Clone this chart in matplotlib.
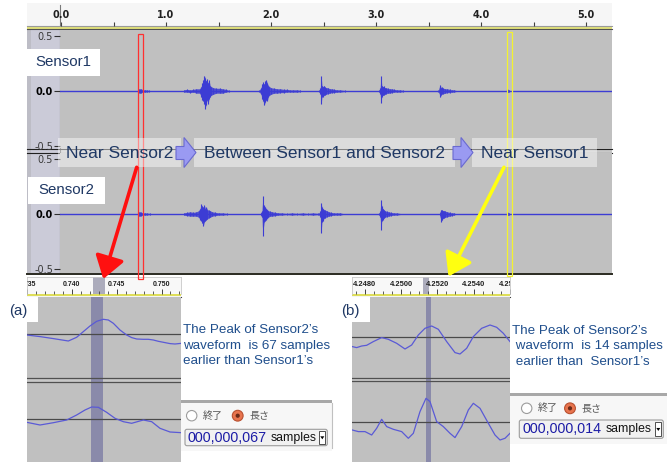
import matplotlib
matplotlib.use('Agg')
import matplotlib.pyplot as plt
from matplotlib.patches import Rectangle, Polygon, FancyArrowPatch, Circle, FancyBboxPatch

plt.rcParams['font.family'] = ['Liberation Sans', 'DejaVu Sans']

# ---------------- data ----------------
RULER_TICKS = [0.0, 1.0, 2.0, 3.0, 4.0, 5.0]
RULER_LABELS = ['0.0', '1.0', '2.0', '3.0', '4.0', '5.0']
RULER_ALL = [0.0, 0.5, 1.0, 1.5, 2.0, 2.5, 3.0, 3.5, 4.0, 4.5, 5.0]
AMP_TICKS = [-0.5, 0.0, 0.5]
AMP_LABELS = ['-0.5', '0.0', '0.5']

# Sensor1 bursts (time s, upper envelope, lower envelope)
S1_T = [
    [0.735, 0.745, 0.755, 0.765, 0.78, 0.80, 0.82, 0.84],
    [1.17, 1.20, 1.23, 1.26, 1.29, 1.32, 1.335, 1.345, 1.355, 1.365, 1.372, 1.38, 1.39, 1.40, 1.41, 1.42, 1.43, 1.45, 1.48, 1.51, 1.54, 1.57, 1.60],
    [1.89, 1.905, 1.915, 1.925, 1.935, 1.945, 1.955, 1.965, 1.975, 1.985, 2.0, 2.03, 2.06, 2.09, 2.12, 2.15, 2.18, 2.21, 2.25, 2.28],
    [2.46, 2.47, 2.478, 2.485, 2.495, 2.505, 2.515, 2.525, 2.54, 2.56, 2.58, 2.60, 2.63, 2.66, 2.70],
    [3.03, 3.04, 3.048, 3.055, 3.065, 3.075, 3.085, 3.095, 3.11, 3.13, 3.15, 3.17, 3.20, 3.23, 3.26],
    [3.595, 3.605, 3.612, 3.62, 3.63, 3.64, 3.66, 3.68, 3.70, 3.72, 3.74, 3.77],
    [4.245, 4.252, 4.26, 4.27],
]
S1_HI = [
    [0.01, 0.02, 0.015, 0.02, 0.01, 0.01, 0.008, 0.005],
    [0.01, 0.015, 0.01, 0.015, 0.02, 0.02, 0.04, 0.07, 0.10, 0.14, 0.12, 0.09, 0.11, 0.07, 0.10, 0.05, 0.04, 0.03, 0.025, 0.025, 0.02, 0.015, 0.005],
    [0.01, 0.03, 0.06, 0.08, 0.06, 0.09, 0.10, 0.07, 0.05, 0.04, 0.03, 0.025, 0.02, 0.02, 0.015, 0.015, 0.01, 0.01, 0.01, 0.005],
    [0.01, 0.03, 0.14, 0.05, 0.04, 0.05, 0.035, 0.03, 0.03, 0.02, 0.02, 0.015, 0.01, 0.01, 0.005],
    [0.01, 0.03, 0.14, 0.05, 0.04, 0.045, 0.03, 0.03, 0.025, 0.02, 0.02, 0.015, 0.01, 0.01, 0.005],
    [0.01, 0.04, 0.055, 0.03, 0.035, 0.025, 0.02, 0.02, 0.015, 0.01, 0.01, 0.003],
    [0.01, 0.02, 0.012, 0.005],
]
S1_LO = [
    [-0.01, -0.015, -0.02, -0.015, -0.01, -0.01, -0.008, -0.005],
    [-0.01, -0.01, -0.015, -0.01, -0.02, -0.02, -0.05, -0.08, -0.09, -0.12, -0.16, -0.13, -0.08, -0.12, -0.07, -0.05, -0.04, -0.03, -0.02, -0.02, -0.02, -0.01, -0.005],
    [-0.01, -0.03, -0.07, -0.09, -0.13, -0.10, -0.08, -0.09, -0.05, -0.04, -0.03, -0.02, -0.02, -0.015, -0.015, -0.01, -0.01, -0.01, -0.01, -0.005],
    [-0.01, -0.03, -0.12, -0.05, -0.05, -0.04, -0.035, -0.03, -0.025, -0.02, -0.015, -0.015, -0.01, -0.01, -0.005],
    [-0.01, -0.03, -0.11, -0.05, -0.04, -0.035, -0.03, -0.025, -0.02, -0.02, -0.015, -0.01, -0.01, -0.01, -0.005],
    [-0.01, -0.03, -0.057, -0.035, -0.025, -0.025, -0.02, -0.015, -0.015, -0.01, -0.01, -0.003],
    [-0.01, -0.015, -0.01, -0.005],
]

# Sensor2 bursts
S2_T = [
    [0.735, 0.745, 0.755, 0.765, 0.78, 0.80, 0.82, 0.85],
    [1.17, 1.20, 1.23, 1.26, 1.29, 1.31, 1.325, 1.335, 1.345, 1.355, 1.365, 1.375, 1.385, 1.395, 1.405, 1.42, 1.44, 1.47, 1.50, 1.54, 1.58],
    [1.90, 1.915, 1.922, 1.928, 1.935, 1.945, 1.955, 1.965, 1.975, 1.99, 2.01, 2.04, 2.07, 2.10, 2.15, 2.20, 2.25, 2.30, 2.35, 2.40, 2.45],
    [2.46, 2.47, 2.478, 2.485, 2.495, 2.505, 2.515, 2.53, 2.55, 2.57, 2.60, 2.63, 2.66, 2.69],
    [3.03, 3.04, 3.048, 3.055, 3.065, 3.075, 3.085, 3.10, 3.12, 3.14, 3.17, 3.20, 3.24],
    [3.605, 3.615, 3.622, 3.63, 3.64, 3.65, 3.66, 3.68, 3.70, 3.72, 3.74, 3.76],
    [4.245, 4.252, 4.26, 4.27],
]
S2_HI = [
    [0.01, 0.02, 0.015, 0.015, 0.01, 0.01, 0.008, 0.005],
    [0.01, 0.015, 0.02, 0.015, 0.02, 0.03, 0.05, 0.09, 0.07, 0.06, 0.08, 0.05, 0.06, 0.04, 0.035, 0.03, 0.02, 0.015, 0.01, 0.01, 0.005],
    [0.01, 0.03, 0.16, 0.07, 0.08, 0.06, 0.05, 0.04, 0.03, 0.025, 0.02, 0.015, 0.01, 0.01, 0.005, 0.01, 0.005, 0.01, 0.005, 0.01, 0.005],
    [0.01, 0.03, 0.10, 0.06, 0.05, 0.04, 0.035, 0.03, 0.02, 0.015, 0.01, 0.01, 0.01, 0.003],
    [0.01, 0.03, 0.13, 0.07, 0.05, 0.04, 0.03, 0.025, 0.02, 0.015, 0.01, 0.01, 0.003],
    [0.01, 0.03, 0.04, 0.035, 0.03, 0.03, 0.025, 0.02, 0.015, 0.01, 0.01, 0.003],
    [0.01, 0.02, 0.012, 0.005],
]
S2_LO = [
    [-0.01, -0.02, -0.015, -0.015, -0.01, -0.01, -0.008, -0.005],
    [-0.01, -0.015, -0.02, -0.02, -0.02, -0.03, -0.05, -0.06, -0.08, -0.11, -0.07, -0.06, -0.05, -0.045, -0.035, -0.03, -0.02, -0.015, -0.01, -0.01, -0.005],
    [-0.01, -0.03, -0.20, -0.12, -0.07, -0.06, -0.05, -0.04, -0.03, -0.02, -0.02, -0.015, -0.01, -0.01, -0.005, -0.01, -0.005, -0.01, -0.005, -0.01, -0.005],
    [-0.01, -0.03, -0.17, -0.07, -0.06, -0.04, -0.035, -0.025, -0.02, -0.015, -0.01, -0.01, -0.01, -0.003],
    [-0.01, -0.03, -0.145, -0.06, -0.05, -0.04, -0.03, -0.025, -0.02, -0.015, -0.01, -0.01, -0.003],
    [-0.01, -0.04, -0.07, -0.05, -0.04, -0.035, -0.03, -0.025, -0.02, -0.015, -0.01, -0.003],
    [-0.01, -0.015, -0.01, -0.005],
]

# Zoomed view (a)
A_TICKS = [0.735, 0.740, 0.745, 0.750]
A_LABELS = ['0.735', '0.740', '0.745', '0.750']
A_MINOR = [0.736, 0.737, 0.738, 0.739, 0.741, 0.742, 0.743, 0.744, 0.746, 0.747, 0.748, 0.749, 0.751, 0.752]
A_BAND = [0.74236, 0.74366]
A1_T = [0.735400, 0.736850, 0.738300, 0.739930, 0.740830, 0.741560, 0.742280, 0.743010, 0.743730, 0.744280, 0.744820, 0.745540,
        0.746270, 0.746810, 0.747360, 0.748080, 0.748620, 0.749170, 0.749710, 0.750430, 0.750980, 0.751520, 0.752250]
A1_V = [-0.7, -2.3, -4.3, -6.7, -3.0, 2.7, 8.3, 13.0, 15.0, 14.3, 11.0, 4.3, -0.7, -3.3, -4.7, -5.0, -5.0, -5.7, -7.0, -8.3, -9.3, -9.7, -9.0]
A2_T = [0.735400, 0.736850, 0.738300, 0.739750, 0.740830, 0.741740, 0.742460, 0.743190, 0.744090, 0.745000, 0.745910, 0.746810,
        0.748080, 0.748990, 0.749890, 0.750980, 0.752250]
A2_V = [-3.3, -6.0, -3.7, -1.0, 4.0, 9.0, 12.0, 11.7, 6.7, 0.7, -2.7, -4.3, -1.0, -2.7, -9.3, -13.0, -13.7]

# Zoomed view (b)
B_TICKS = [4.2480, 4.2500, 4.2520, 4.2540, 4.2560]
B_LABELS = ['4.2480', '4.2500', '4.2520', '4.2540', '4.2560']
B_MINOR = [4.2475, 4.2485, 4.2490, 4.2495, 4.2505, 4.2510, 4.2515, 4.2525, 4.2530, 4.2535, 4.2545, 4.2550, 4.2555]
B_BAND = [4.251237, 4.251520]
B1_T = [4.247324, 4.247556, 4.247822, 4.248089, 4.248444, 4.248889, 4.249244, 4.249689, 4.250133, 4.250489, 4.250844, 4.251200,
        4.251556, 4.251911, 4.252356, 4.252800, 4.253067, 4.253422, 4.253778, 4.254222, 4.254667, 4.255022, 4.255378, 4.255733]
B1_V = [-9.3, -10.3, -8.7, -8.0, -4.3, -0.3, -2.0, -6.0, -11.7, -7.7, 2.3, 9.0, 11.3, 8.0, -4.3, -15.3, -16.7, -11.0, 0.7, 9.0, 12.3, 10.0, 4.0, -4.3]
B2_T = [4.247324, 4.247644, 4.248000, 4.248356, 4.248622, 4.248889, 4.249156, 4.249511, 4.249956, 4.250311, 4.250578, 4.250933,
        4.251253, 4.251467, 4.251822, 4.252178, 4.252533, 4.252800, 4.253156, 4.253511, 4.253778, 4.254133, 4.254578, 4.254933,
        4.255200, 4.255467, 4.255733]
B2_V = [-7.7, -9.3, -9.3, -12.7, -6.0, 3.0, -4.3, -7.0, -9.3, -16.0, -11.0, 10.7, 24.0, 20.7, 0.7, -4.3, -11.0, -15.3, -4.3,
        12.3, 19.0, 14.0, -1.0, -12.7, -17.7, -16.0, -11.0]

SEGMENTS = ['Near Sensor2', 'Between Sensor1 and Sensor2', 'Near Sensor1']
TRACK_NAMES = ['Sensor1', 'Sensor2']
CAPTION_A = ['The Peak of Sensor2\u2019s', 'waveform  is 67 samples', 'earlier than Sensor1\u2019s']
CAPTION_B = ['The Peak of Sensor2\u2019s', ' waveform  is 14 samples', ' earlier than  Sensor1\u2019s']
COUNT_A = '000,000,067'
COUNT_B = '000,000,014'

# ---------------- styling ----------------
W, H = 667, 462
WAVE = '#3c3cd4'
ZWAVE = '#5a5ad6'
TRACK_BG = '#c0c0c0'
NAVY = '#1f3864'
CAP = '#1f4e8c'

fig = plt.figure(figsize=(W / 100, H / 100), dpi=100)
fig.patch.set_facecolor('white')


def fbox(x0, y0, x1, y1):
    return [x0 / W, 1 - y1 / H, (x1 - x0) / W, (y1 - y0) / H]


def clean(ax):
    for s in ax.spines.values():
        s.set_visible(False)


# background (pixel space)
bg = fig.add_axes([0, 0, 1, 1])
bg.set_xlim(0, W); bg.set_ylim(H, 0); bg.axis('off'); bg.set_zorder(0)
bg.add_patch(Rectangle((27, 3), 585, 23, fc='#f6f6f6', ec='none'))
bg.plot([27, 612], [25.8, 25.8], color='#9a9a9a', lw=0.8)
bg.add_patch(Rectangle((27, 26.3), 585, 2.6, fc='#e0e07a', ec='none'))
bg.plot([27, 612], [29.4, 29.4], color='#505050', lw=0.8)
bg.add_patch(Rectangle((27, 30), 33, 243.5, fc='#cbcbd8', ec='none'))
bg.add_patch(Rectangle((27, 30), 4, 243.5, fc='#bdbdc6', ec='none'))
bg.plot([59.6, 59.6], [30, 273], color='#6a6a6a', lw=0.8)
bg.add_patch(Rectangle((60, 148), 552, 5, fc='#c8c8c8', ec='none'))
bg.plot([27, 612], [148.5, 148.5], color='#202020', lw=0.8)
bg.plot([27, 612], [152.6, 152.6], color='#202020', lw=0.8)
bg.plot([27, 612], [273.6, 273.6], color='#2a2a20', lw=1.4)
# yellow borders under the zoom rulers
for xa, xb in ((27, 181), (352, 510)):
    bg.add_patch(Rectangle((xa, 294), xb - xa, 2.2, fc='#dede5a', ec='none'))
    bg.plot([xa, xb], [296.6, 296.6], color='#404040', lw=0.8)

# main ruler
T0, T1 = -0.009524, 5.247619
ru = fig.add_axes(fbox(27, 4, 612, 26))
ru.set_zorder(1); ru.patch.set_alpha(0); clean(ru)
ru.set_xlim(-0.32381, T1); ru.set_ylim(0, 1)
ru.set_xticks(RULER_ALL); ru.set_yticks([])
ru.tick_params(axis='x', direction='in', length=3, width=0.8, color='#404040', labelbottom=False)
for t, lab in zip(RULER_TICKS, RULER_LABELS):
    ru.text(t, 0.5, lab, ha='center', va='center', fontsize=7, fontweight='bold',
            family='DejaVu Sans', color='#202020', transform=ru.get_xaxis_transform())
ru.plot([-0.012, -0.012], [0.05, 0.95], color='#7a7a7a', lw=0.8)


def main_track(box, ylim, T, HI, LO):
    ax = fig.add_axes(box)
    ax.set_zorder(1)
    ax.set_facecolor(TRACK_BG); clean(ax)
    ax.set_xlim(T0, T1); ax.set_ylim(*ylim)
    ax.set_xticks([])
    ax.set_yticks(AMP_TICKS)
    ax.set_yticklabels(AMP_LABELS)
    ax.tick_params(axis='y', length=4, width=0.8, pad=1, labelsize=7, colors='#303030')
    for lab in ax.get_yticklabels():
        lab.set_family('DejaVu Sans')
        lab.set_fontweight('bold')
        if lab.get_text() == '0.0':
            lab.set_color('black')
        else:
            lab.set_color('#3a3a3a')
            lab.set_fontweight('normal')
    ax.axhline(0, color=WAVE, lw=1.0)
    for t, hi, lo in zip(T, HI, LO):
        ax.fill_between(t, lo, hi, color=WAVE, lw=0, alpha=0.85)
        ax.vlines(t, lo, hi, color=WAVE, lw=0.8)
    return ax


main_track(fbox(60, 30, 612, 148), (-0.51818, 0.55455), S1_T, S1_HI, S1_LO)
main_track(fbox(60, 153, 612, 273), (-0.53636, 0.55455), S2_T, S2_HI, S2_LO)


def inset(x0, x1, xlim, div, ylim1, ylim2, ticks, labels, minor, band, t1, v1, t2, v2, lsize):
    fr = fig.add_axes(fbox(x0, 297, x1, 462))
    fr.set_zorder(1); clean(fr)
    fr.set_facecolor(TRACK_BG)
    fr.set_xlim(*xlim); fr.set_ylim(462, 297)
    fr.set_xticks([]); fr.set_yticks([])
    fr.axhspan(div[0], div[1], color='#c8c8c8', lw=0)
    fr.axhline(div[0] + 0.4, color='#505050', lw=0.9)
    fr.axhline(div[1] - 0.4, color='#505050', lw=0.9)
    fr.axvspan(band[0], band[1], color='#8a8aaa', lw=0)

    ru = fig.add_axes(fbox(x0, 277, x1, 294))
    ru.set_zorder(2); ru.set_facecolor('#f8f8f8')
    for s in ru.spines.values():
        s.set_color('#c8c8c8'); s.set_linewidth(0.6)
    ru.spines['bottom'].set_visible(False)
    ru.set_xlim(*xlim); ru.set_ylim(0, 1)
    ru.set_xticks(ticks); ru.set_xticks(minor, minor=True); ru.set_yticks([])
    ru.tick_params(axis='x', which='major', direction='in', length=3.5, width=0.7, color='#404040', labelbottom=False)
    ru.tick_params(axis='x', which='minor', direction='in', length=2, width=0.6, color='#404040')
    ru.axvspan(band[0], band[1], color='#acacbc', lw=0)
    for t, lab in zip(ticks, labels):
        ru.text(t, 0.55, lab, ha='center', va='center', fontsize=lsize, fontweight='bold',
                color='#202020', transform=ru.get_xaxis_transform(), clip_on=True)

    tops = [(297, div[0]), (div[1], 462)]
    for (ya, yb), yl, t, v in zip(tops, [ylim1, ylim2], [t1, t2], [v1, v2]):
        ax = fig.add_axes(fbox(x0, ya, x1, yb))
        ax.set_zorder(2); ax.patch.set_alpha(0); clean(ax)
        ax.set_xlim(*xlim); ax.set_ylim(*yl)
        ax.set_xticks([]); ax.set_yticks([])
        ax.axhline(0, color='#4a4a4a', lw=0.9)
        ax.plot(t, v, color=ZWAVE, lw=0.9)


inset(27, 181, (0.735435, 0.752174), (378, 382), (-43.7, 37.3), (-43.0, 37.0),
      A_TICKS, A_LABELS, A_MINOR, A_BAND, A1_T, A1_V, A2_T, A2_V, 5.0)
inset(352, 510, (4.247307, 4.255733), (377.5, 381), (-40.2, 40.3), (-39.7, 41.3),
      B_TICKS, B_LABELS, B_MINOR, B_BAND, B1_T, B1_V, B2_T, B2_V, 5.4)

# ---------------- overlay annotations (pixel space) ----------------
ov = fig.add_axes([0, 0, 1, 1])
ov.set_xlim(0, W); ov.set_ylim(H, 0); ov.axis('off'); ov.set_zorder(10)
ov.patch.set_alpha(0)

# highlight rectangles
ov.add_patch(Rectangle((137.5, 34), 5, 245, fill=False, ec='#ff3030', lw=0.9))
ov.add_patch(Rectangle((507.2, 32), 4.8, 244, fill=False, ec='#f2f230', lw=0.9))

# track names
ov.add_patch(Rectangle((27, 49), 73, 26.5, fc='white', ec='none'))
ov.text(35, 62.5, TRACK_NAMES[0], fontsize=10.8, color=NAVY, va='center', ha='left')
ov.add_patch(Rectangle((28, 177), 77, 26.5, fc='white', ec='none'))
ov.text(38, 190.3, TRACK_NAMES[1], fontsize=10.8, color=NAVY, va='center', ha='left')

# segment bar
seg_boxes = [(58, 181), (194, 455), (472, 597)]
for (xa, xb), lab in zip(seg_boxes, SEGMENTS):
    ov.add_patch(Rectangle((xa, 137.5), xb - xa, 29.5, fc='white', ec='none', alpha=0.45))
    ov.text((xa + xb) / 2 + 0.5, 153, lab, fontsize=12.5, color=NAVY, ha='center', va='center')
for xa in (176, 453):
    ov.add_patch(Polygon([(xa, 146.5), (xa + 8, 146.5), (xa + 8, 137.5), (xa + 20, 152.5),
                          (xa + 8, 167.5), (xa + 8, 159.5), (xa, 159.5)],
                         closed=True, fc='#9a9af2', ec='#6a6ad0', lw=0.8))

# pointer arrows
ov.add_patch(FancyArrowPatch((136.7, 167.3), (103.3, 279), arrowstyle='-|>,head_length=0.9,head_width=0.6',
                             mutation_scale=15, color='#ff1010', lw=2.6, shrinkA=0, shrinkB=0))
ov.add_patch(FancyArrowPatch((504, 167.3), (448.5, 276.5), arrowstyle='-|>,head_length=0.9,head_width=0.6',
                             mutation_scale=15, color='#ffff10', lw=2.6, shrinkA=0, shrinkB=0))

# panel letters
ov.add_patch(Rectangle((0, 297), 37.7, 25, fc='white', ec='none'))
ov.text(9.5, 311, '(a)', fontsize=10.8, color=NAVY, va='center', ha='left')
ov.add_patch(Rectangle((338, 297), 32, 25, fc='white', ec='none'))
ov.text(341.5, 311, '(b)', fontsize=10.8, color=NAVY, va='center', ha='left')

# captions
for i, line in enumerate(CAPTION_A):
    ov.text(183, 330 + 15.5 * i, line, fontsize=9.6, color=CAP, va='center', ha='left')
for i, line in enumerate(CAPTION_B):
    ov.text(512.5, 331 + 15.4 * i, line, fontsize=9.6, color=CAP, va='center', ha='left')


def control(x0, x1, yline, yradio, r1x, r2x, bx0, bx1, by0, by1, count):
    ov.add_patch(Rectangle((x0, yline), x1 - x0, 3.3, fc='#a8a8a8', ec='none'))
    ov.add_patch(Rectangle((x0, yline + 3.3), x1 - x0, by1 - yline + 2, fc='#f7f7f7', ec='none'))
    ov.add_patch(Circle((r1x, yradio), 5.2, fc='white', ec='#9c9c9c', lw=0.8))
    ov.text(r1x + 11, yradio, '終了', fontsize=7.2, color='#555555', va='center', ha='left',
            family=['Noto Sans CJK JP', 'DejaVu Sans'])
    ov.add_patch(Circle((r2x, yradio), 5.4, fc='#e8744e', ec='#b85030', lw=0.8))
    ov.add_patch(Circle((r2x, yradio), 2.1, fc='#6a2a18', ec='none'))
    ov.text(r2x + 12, yradio, '長さ', fontsize=7.2, color='#555555', va='center', ha='left',
            family=['Noto Sans CJK JP', 'DejaVu Sans'])
    ov.add_patch(FancyBboxPatch((bx0, by0), bx1 - bx0, by1 - by0, boxstyle='round,pad=0,rounding_size=2',
                                fc='#f1f1f1', ec='#9c9c9c', lw=0.8))
    yc = (by0 + by1) / 2 + 0.3
    ov.text(bx0 + 3, yc, count, fontsize=10.3, color='#1c1ca6', va='center', ha='left')
    ov.text(bx0 + 86, yc, 'samples', fontsize=8.8, color='#111111', va='center', ha='left')
    ov.add_patch(Rectangle((bx1 - 8, by0 + 2), 6, by1 - by0 - 4, fc='white', ec='#333333', lw=0.6))
    ov.add_patch(Polygon([(bx1 - 7, yc - 1.5), (bx1 - 3, yc - 1.5), (bx1 - 5, yc + 1.5)], closed=True,
                         fc='black', ec='none'))


control(181, 332, 399.5, 415.7, 191.7, 237.7, 185, 327.3, 429.3, 445.7, COUNT_A)
ov.plot([332, 332], [403, 448], color='#c0c0c0', lw=0.8)
control(510, 667, 393, 408.3, 526.7, 570, 519.3, 663.3, 420, 438.3, COUNT_B)

fig.savefig('out.png', dpi=100, facecolor='white')
